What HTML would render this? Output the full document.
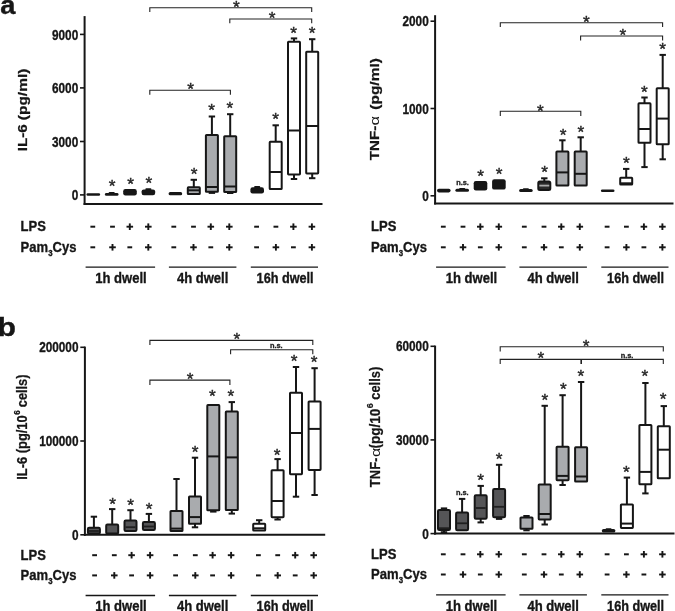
<!DOCTYPE html>
<html><head><meta charset="utf-8"><title>Figure</title>
<style>html,body{margin:0;padding:0;background:#fff}svg{display:block}</style>
</head><body>
<svg width="675" height="611" viewBox="0 0 675 611" font-family="Liberation Sans, Arial, Helvetica, sans-serif">
<rect width="675" height="611" fill="#fff"/>
<text transform="translate(0.3,14.3) scale(1.07,1)" font-size="25.5" font-weight="bold" fill="#161616" stroke="#161616" stroke-width="0.4">a</text>
<text transform="translate(-2.4,335.7) scale(1.16,1)" font-size="26" font-weight="bold" fill="#161616" stroke="#161616" stroke-width="0.4">b</text>
<line x1="84.6" y1="16.1" x2="84.6" y2="205" stroke="#161616" stroke-width="2.0"/>
<line x1="83.6" y1="204" x2="322.5" y2="204" stroke="#161616" stroke-width="2.0"/>
<line x1="80" y1="34.4" x2="84.6" y2="34.4" stroke="#161616" stroke-width="1.6"/>
<text transform="translate(78.2,39.5) scale(0.82,1)" font-size="14.4" font-weight="bold" text-anchor="end" fill="#161616" stroke="#161616" stroke-width="0.35">9000</text>
<line x1="80" y1="87.9" x2="84.6" y2="87.9" stroke="#161616" stroke-width="1.6"/>
<text transform="translate(78.2,93) scale(0.82,1)" font-size="14.4" font-weight="bold" text-anchor="end" fill="#161616" stroke="#161616" stroke-width="0.35">6000</text>
<line x1="80" y1="141.5" x2="84.6" y2="141.5" stroke="#161616" stroke-width="1.6"/>
<text transform="translate(78.2,146.6) scale(0.82,1)" font-size="14.4" font-weight="bold" text-anchor="end" fill="#161616" stroke="#161616" stroke-width="0.35">3000</text>
<line x1="80" y1="194.9" x2="84.6" y2="194.9" stroke="#161616" stroke-width="1.6"/>
<text transform="translate(78.2,200) scale(0.82,1)" font-size="14.4" font-weight="bold" text-anchor="end" fill="#161616" stroke="#161616" stroke-width="0.35">0</text>
<text transform="translate(26.9,151.2) rotate(-90)" font-size="13" font-weight="bold" fill="#161616" stroke="#161616" stroke-width="0.25" textLength="27.0" lengthAdjust="spacingAndGlyphs">IL-6</text>
<text transform="translate(26.9,120.2) rotate(-90)" font-size="13" font-weight="bold" fill="#161616" stroke="#161616" stroke-width="0.25" textLength="51.6" lengthAdjust="spacingAndGlyphs">(pg/ml)</text>
<rect x="86.5" y="193.3" width="13.6" height="2.4" rx="1.2" fill="#161616"/>
<rect x="108.7" y="191.9" width="6" height="2.2" rx="0.8" fill="#161616"/>
<rect x="104.9" y="193.1" width="13.6" height="2.7" rx="1.35" fill="#161616"/>
<rect x="123.2" y="189" width="13.6" height="6.5" rx="2.2" fill="#161616"/>
<rect x="145.4" y="188.3" width="6" height="2.1" rx="0.8" fill="#161616"/>
<rect x="141.6" y="189.4" width="13.6" height="5.9" rx="2.2" fill="#161616"/>
<rect x="168.6" y="192.1" width="13.6" height="3.1" rx="1.55" fill="#161616"/>
<line x1="193.8" y1="187.3" x2="193.8" y2="179.8" stroke="#161616" stroke-width="2.0"/>
<line x1="190.6" y1="179.8" x2="197" y2="179.8" stroke="#161616" stroke-width="2.0"/>
<rect x="187.8" y="187.3" width="12.0" height="6.7" rx="0.6" fill="#a9abae" stroke="#161616" stroke-width="2.0"/>
<line x1="187.8" y1="190.3" x2="199.8" y2="190.3" stroke="#161616" stroke-width="2.0"/>
<line x1="211.9" y1="135" x2="211.9" y2="116.5" stroke="#161616" stroke-width="2.0"/>
<line x1="208.7" y1="116.5" x2="215.1" y2="116.5" stroke="#161616" stroke-width="2.0"/>
<line x1="211.9" y1="191.8" x2="211.9" y2="192.9" stroke="#161616" stroke-width="2.0"/>
<line x1="208.7" y1="192.9" x2="215.1" y2="192.9" stroke="#161616" stroke-width="2.0"/>
<rect x="205.9" y="135" width="12.0" height="56.8" rx="0.6" fill="#a9abae" stroke="#161616" stroke-width="2.0"/>
<line x1="205.9" y1="187" x2="217.9" y2="187" stroke="#161616" stroke-width="2.0"/>
<line x1="230.2" y1="136.2" x2="230.2" y2="114.2" stroke="#161616" stroke-width="2.0"/>
<line x1="227" y1="114.2" x2="233.4" y2="114.2" stroke="#161616" stroke-width="2.0"/>
<line x1="230.2" y1="192" x2="230.2" y2="193" stroke="#161616" stroke-width="2.0"/>
<line x1="227" y1="193" x2="233.4" y2="193" stroke="#161616" stroke-width="2.0"/>
<rect x="224.2" y="136.2" width="12.0" height="55.8" rx="0.6" fill="#a9abae" stroke="#161616" stroke-width="2.0"/>
<line x1="224.2" y1="186.5" x2="236.2" y2="186.5" stroke="#161616" stroke-width="2.0"/>
<rect x="254.2" y="186" width="6" height="2.2" rx="0.8" fill="#161616"/>
<rect x="250.4" y="187.2" width="13.6" height="6.3" rx="2.2" fill="#161616"/>
<line x1="275.7" y1="141.8" x2="275.7" y2="125.3" stroke="#161616" stroke-width="2.0"/>
<line x1="272.5" y1="125.3" x2="278.9" y2="125.3" stroke="#161616" stroke-width="2.0"/>
<rect x="269.7" y="141.8" width="12.0" height="47.2" rx="0.6" fill="#ffffff" stroke="#161616" stroke-width="2.0"/>
<line x1="269.7" y1="172" x2="281.7" y2="172" stroke="#161616" stroke-width="2.0"/>
<line x1="294" y1="41.8" x2="294" y2="38.4" stroke="#161616" stroke-width="2.0"/>
<line x1="290.8" y1="38.4" x2="297.2" y2="38.4" stroke="#161616" stroke-width="2.0"/>
<line x1="294" y1="174.4" x2="294" y2="179" stroke="#161616" stroke-width="2.0"/>
<line x1="290.8" y1="179" x2="297.2" y2="179" stroke="#161616" stroke-width="2.0"/>
<rect x="288" y="41.8" width="12.0" height="132.6" rx="0.6" fill="#ffffff" stroke="#161616" stroke-width="2.0"/>
<line x1="288" y1="130.5" x2="300" y2="130.5" stroke="#161616" stroke-width="2.0"/>
<line x1="312.2" y1="51.7" x2="312.2" y2="39.2" stroke="#161616" stroke-width="2.0"/>
<line x1="309" y1="39.2" x2="315.4" y2="39.2" stroke="#161616" stroke-width="2.0"/>
<line x1="312.2" y1="173.4" x2="312.2" y2="178.2" stroke="#161616" stroke-width="2.0"/>
<line x1="309" y1="178.2" x2="315.4" y2="178.2" stroke="#161616" stroke-width="2.0"/>
<rect x="306.2" y="51.7" width="12.0" height="121.7" rx="0.6" fill="#ffffff" stroke="#161616" stroke-width="2.0"/>
<line x1="306.2" y1="126" x2="318.2" y2="126" stroke="#161616" stroke-width="2.0"/>
<text x="112.1" y="192.07" font-size="17.3" text-anchor="middle" fill="#262626" stroke="#262626" stroke-width="0.4" font-weight="normal">*</text>
<text x="130.7" y="189.67" font-size="17.3" text-anchor="middle" fill="#262626" stroke="#262626" stroke-width="0.4" font-weight="normal">*</text>
<text x="148.9" y="188.97" font-size="17.3" text-anchor="middle" fill="#262626" stroke="#262626" stroke-width="0.4" font-weight="normal">*</text>
<text x="194" y="179.67" font-size="17.3" text-anchor="middle" fill="#262626" stroke="#262626" stroke-width="0.4" font-weight="normal">*</text>
<text x="211.6" y="116.07" font-size="17.3" text-anchor="middle" fill="#262626" stroke="#262626" stroke-width="0.4" font-weight="normal">*</text>
<text x="229.9" y="113.97" font-size="17.3" text-anchor="middle" fill="#262626" stroke="#262626" stroke-width="0.4" font-weight="normal">*</text>
<text x="275.5" y="124.87" font-size="17.3" text-anchor="middle" fill="#262626" stroke="#262626" stroke-width="0.4" font-weight="normal">*</text>
<text x="293.7" y="38.57" font-size="17.3" text-anchor="middle" fill="#262626" stroke="#262626" stroke-width="0.4" font-weight="normal">*</text>
<text x="312" y="39.47" font-size="17.3" text-anchor="middle" fill="#262626" stroke="#262626" stroke-width="0.4" font-weight="normal">*</text>
<text x="236.3" y="12.77" font-size="17.3" text-anchor="middle" fill="#262626" stroke="#262626" stroke-width="0.4" font-weight="normal">*</text>
<text x="272" y="23.87" font-size="17.3" text-anchor="middle" fill="#262626" stroke="#262626" stroke-width="0.4" font-weight="normal">*</text>
<text x="190.7" y="95.37" font-size="17.3" text-anchor="middle" fill="#262626" stroke="#262626" stroke-width="0.4" font-weight="normal">*</text>
<path d="M149.8 12 V7.8 H311.7 V12" fill="none" stroke="#222" stroke-width="1.1"/>
<path d="M229.8 23.2 V19 H311.7 V23.2" fill="none" stroke="#222" stroke-width="1.1"/>
<path d="M149.8 94.8 V90.3 H230.4 V94.8" fill="none" stroke="#222" stroke-width="1.1"/>
<text transform="translate(20.6,231.3) scale(0.87,1)" font-size="15.0" font-weight="bold" text-anchor="start" fill="#161616" stroke="#161616" stroke-width="0.35">LPS</text>
<text transform="translate(20.6,252) scale(0.87,1)" font-size="15.0" font-weight="bold" fill="#161616" stroke="#161616" stroke-width="0.35">Pam<tspan font-size="9" dy="3.5">3</tspan><tspan dy="-3.5">Cys</tspan></text>
<line x1="90.4" y1="226.7" x2="95.2" y2="226.7" stroke="#161616" stroke-width="2.0"/>
<line x1="90.4" y1="247.3" x2="95.2" y2="247.3" stroke="#161616" stroke-width="2.0"/>
<line x1="110.1" y1="226.7" x2="114.9" y2="226.7" stroke="#161616" stroke-width="2.0"/>
<line x1="109.2" y1="247.3" x2="115.8" y2="247.3" stroke="#161616" stroke-width="1.9"/>
<line x1="112.5" y1="244" x2="112.5" y2="250.6" stroke="#161616" stroke-width="1.9"/>
<line x1="126.5" y1="226.7" x2="133.1" y2="226.7" stroke="#161616" stroke-width="1.9"/>
<line x1="129.8" y1="223.4" x2="129.8" y2="230" stroke="#161616" stroke-width="1.9"/>
<line x1="127.4" y1="247.3" x2="132.2" y2="247.3" stroke="#161616" stroke-width="2.0"/>
<line x1="145" y1="226.7" x2="151.6" y2="226.7" stroke="#161616" stroke-width="1.9"/>
<line x1="148.3" y1="223.4" x2="148.3" y2="230" stroke="#161616" stroke-width="1.9"/>
<line x1="145" y1="247.3" x2="151.6" y2="247.3" stroke="#161616" stroke-width="1.9"/>
<line x1="148.3" y1="244" x2="148.3" y2="250.6" stroke="#161616" stroke-width="1.9"/>
<line x1="171.4" y1="226.7" x2="176.2" y2="226.7" stroke="#161616" stroke-width="2.0"/>
<line x1="171.4" y1="247.3" x2="176.2" y2="247.3" stroke="#161616" stroke-width="2.0"/>
<line x1="191.1" y1="226.7" x2="195.9" y2="226.7" stroke="#161616" stroke-width="2.0"/>
<line x1="190.2" y1="247.3" x2="196.8" y2="247.3" stroke="#161616" stroke-width="1.9"/>
<line x1="193.5" y1="244" x2="193.5" y2="250.6" stroke="#161616" stroke-width="1.9"/>
<line x1="207.5" y1="226.7" x2="214.1" y2="226.7" stroke="#161616" stroke-width="1.9"/>
<line x1="210.8" y1="223.4" x2="210.8" y2="230" stroke="#161616" stroke-width="1.9"/>
<line x1="208.4" y1="247.3" x2="213.2" y2="247.3" stroke="#161616" stroke-width="2.0"/>
<line x1="226" y1="226.7" x2="232.6" y2="226.7" stroke="#161616" stroke-width="1.9"/>
<line x1="229.3" y1="223.4" x2="229.3" y2="230" stroke="#161616" stroke-width="1.9"/>
<line x1="226" y1="247.3" x2="232.6" y2="247.3" stroke="#161616" stroke-width="1.9"/>
<line x1="229.3" y1="244" x2="229.3" y2="250.6" stroke="#161616" stroke-width="1.9"/>
<line x1="254.2" y1="226.7" x2="259" y2="226.7" stroke="#161616" stroke-width="2.0"/>
<line x1="254.2" y1="247.3" x2="259" y2="247.3" stroke="#161616" stroke-width="2.0"/>
<line x1="273.5" y1="226.7" x2="278.3" y2="226.7" stroke="#161616" stroke-width="2.0"/>
<line x1="272.6" y1="247.3" x2="279.2" y2="247.3" stroke="#161616" stroke-width="1.9"/>
<line x1="275.9" y1="244" x2="275.9" y2="250.6" stroke="#161616" stroke-width="1.9"/>
<line x1="290.1" y1="226.7" x2="296.7" y2="226.7" stroke="#161616" stroke-width="1.9"/>
<line x1="293.4" y1="223.4" x2="293.4" y2="230" stroke="#161616" stroke-width="1.9"/>
<line x1="291" y1="247.3" x2="295.8" y2="247.3" stroke="#161616" stroke-width="2.0"/>
<line x1="308.6" y1="226.7" x2="315.2" y2="226.7" stroke="#161616" stroke-width="1.9"/>
<line x1="311.9" y1="223.4" x2="311.9" y2="230" stroke="#161616" stroke-width="1.9"/>
<line x1="308.6" y1="247.3" x2="315.2" y2="247.3" stroke="#161616" stroke-width="1.9"/>
<line x1="311.9" y1="244" x2="311.9" y2="250.6" stroke="#161616" stroke-width="1.9"/>
<line x1="85.6" y1="267.1" x2="155.1" y2="267.1" stroke="#161616" stroke-width="1.3"/>
<text transform="translate(120.95,282.8) scale(0.9,1)" font-size="14.5" font-weight="bold" text-anchor="middle" fill="#161616" stroke="#161616" stroke-width="0.35">1h dwell</text>
<line x1="168.9" y1="267.1" x2="236.4" y2="267.1" stroke="#161616" stroke-width="1.3"/>
<text transform="translate(202.65,282.8) scale(0.9,1)" font-size="14.5" font-weight="bold" text-anchor="middle" fill="#161616" stroke="#161616" stroke-width="0.35">4h dwell</text>
<line x1="250.8" y1="267.1" x2="318" y2="267.1" stroke="#161616" stroke-width="1.3"/>
<text transform="translate(285.1,282.8) scale(0.875,1)" font-size="14.5" font-weight="bold" text-anchor="middle" fill="#161616" stroke="#161616" stroke-width="0.35">16h dwell</text>
<line x1="435.1" y1="15.2" x2="435.1" y2="204.5" stroke="#161616" stroke-width="2.0"/>
<line x1="434.1" y1="203.5" x2="673.5" y2="203.5" stroke="#161616" stroke-width="2.0"/>
<line x1="430.5" y1="21.2" x2="435.1" y2="21.2" stroke="#161616" stroke-width="1.6"/>
<text transform="translate(428.7,26.3) scale(0.82,1)" font-size="14.4" font-weight="bold" text-anchor="end" fill="#161616" stroke="#161616" stroke-width="0.35">2000</text>
<line x1="430.5" y1="108.5" x2="435.1" y2="108.5" stroke="#161616" stroke-width="1.6"/>
<text transform="translate(428.7,113.6) scale(0.82,1)" font-size="14.4" font-weight="bold" text-anchor="end" fill="#161616" stroke="#161616" stroke-width="0.35">1000</text>
<line x1="430.5" y1="195.8" x2="435.1" y2="195.8" stroke="#161616" stroke-width="1.6"/>
<text transform="translate(428.7,200.9) scale(0.82,1)" font-size="14.4" font-weight="bold" text-anchor="end" fill="#161616" stroke="#161616" stroke-width="0.35">0</text>
<text transform="translate(379,160.3) rotate(-90)" font-size="13" font-weight="bold" fill="#161616" stroke="#161616" stroke-width="0.25" textLength="34.5" lengthAdjust="spacingAndGlyphs">TNF-</text>
<text transform="translate(379,125.6) rotate(-90)" font-size="13.5" font-weight="normal" fill="#161616" textLength="9.6" lengthAdjust="spacingAndGlyphs">α</text>
<text transform="translate(379,109.7) rotate(-90)" font-size="13" font-weight="bold" fill="#161616" stroke="#161616" stroke-width="0.25" textLength="51.6" lengthAdjust="spacingAndGlyphs">(pg/ml)</text>
<rect x="437" y="188.8" width="13.6" height="3.6" rx="1.8" fill="#161616"/>
<rect x="459.2" y="188" width="6" height="1.8" rx="0.8" fill="#161616"/>
<rect x="455.4" y="188.8" width="13.6" height="3" rx="1.5" fill="#161616"/>
<rect x="473.7" y="181" width="13.6" height="9.5" rx="2.2" fill="#161616"/>
<rect x="492.1" y="179.2" width="13.6" height="10.4" rx="2.2" fill="#161616"/>
<rect x="522.9" y="188.2" width="6" height="1.7" rx="0.8" fill="#161616"/>
<rect x="519.1" y="188.9" width="13.6" height="3" rx="1.5" fill="#161616"/>
<line x1="544.3" y1="181.6" x2="544.3" y2="178.3" stroke="#161616" stroke-width="2.0"/>
<line x1="541.1" y1="178.3" x2="547.5" y2="178.3" stroke="#161616" stroke-width="2.0"/>
<rect x="538.3" y="181.6" width="12.0" height="8.4" rx="1.5" fill="#2a2a2a" stroke="#161616" stroke-width="2.0"/>
<line x1="539.3" y1="185.6" x2="549.3" y2="185.6" stroke="#aaa" stroke-width="1.8"/>
<line x1="562.4" y1="151.6" x2="562.4" y2="140.3" stroke="#161616" stroke-width="2.0"/>
<line x1="559.2" y1="140.3" x2="565.6" y2="140.3" stroke="#161616" stroke-width="2.0"/>
<rect x="556.4" y="151.6" width="12.0" height="34" rx="0.6" fill="#a9abae" stroke="#161616" stroke-width="2.0"/>
<line x1="556.4" y1="172.4" x2="568.4" y2="172.4" stroke="#161616" stroke-width="2.0"/>
<line x1="580.7" y1="151.6" x2="580.7" y2="137.3" stroke="#161616" stroke-width="2.0"/>
<line x1="577.5" y1="137.3" x2="583.9" y2="137.3" stroke="#161616" stroke-width="2.0"/>
<rect x="574.7" y="151.6" width="12.0" height="34" rx="0.6" fill="#a9abae" stroke="#161616" stroke-width="2.0"/>
<line x1="574.7" y1="173.8" x2="586.7" y2="173.8" stroke="#161616" stroke-width="2.0"/>
<rect x="600.9" y="189.4" width="13.6" height="2.7" rx="1.35" fill="#161616"/>
<line x1="626.2" y1="177.8" x2="626.2" y2="168.9" stroke="#161616" stroke-width="2.0"/>
<line x1="623" y1="168.9" x2="629.4" y2="168.9" stroke="#161616" stroke-width="2.0"/>
<rect x="620.2" y="177.8" width="12.0" height="6.7" rx="0.6" fill="#ffffff" stroke="#161616" stroke-width="2.0"/>
<line x1="620.2" y1="183.3" x2="632.2" y2="183.3" stroke="#161616" stroke-width="2.0"/>
<line x1="644.5" y1="103.3" x2="644.5" y2="97.5" stroke="#161616" stroke-width="2.0"/>
<line x1="641.3" y1="97.5" x2="647.7" y2="97.5" stroke="#161616" stroke-width="2.0"/>
<line x1="644.5" y1="142.8" x2="644.5" y2="167.1" stroke="#161616" stroke-width="2.0"/>
<line x1="641.3" y1="167.1" x2="647.7" y2="167.1" stroke="#161616" stroke-width="2.0"/>
<rect x="638.5" y="103.3" width="12.0" height="39.5" rx="0.6" fill="#ffffff" stroke="#161616" stroke-width="2.0"/>
<line x1="638.5" y1="129" x2="650.5" y2="129" stroke="#161616" stroke-width="2.0"/>
<line x1="662.7" y1="88.2" x2="662.7" y2="54.9" stroke="#161616" stroke-width="2.0"/>
<line x1="659.5" y1="54.9" x2="665.9" y2="54.9" stroke="#161616" stroke-width="2.0"/>
<line x1="662.7" y1="144.3" x2="662.7" y2="159.3" stroke="#161616" stroke-width="2.0"/>
<line x1="659.5" y1="159.3" x2="665.9" y2="159.3" stroke="#161616" stroke-width="2.0"/>
<rect x="656.7" y="88.2" width="12.0" height="56.1" rx="0.6" fill="#ffffff" stroke="#161616" stroke-width="2.0"/>
<line x1="656.7" y1="118.6" x2="668.7" y2="118.6" stroke="#161616" stroke-width="2.0"/>
<text x="480.6" y="181.67" font-size="17.3" text-anchor="middle" fill="#262626" stroke="#262626" stroke-width="0.4" font-weight="normal">*</text>
<text x="499" y="180.07" font-size="17.3" text-anchor="middle" fill="#262626" stroke="#262626" stroke-width="0.4" font-weight="normal">*</text>
<text x="544.6" y="178.47" font-size="17.3" text-anchor="middle" fill="#262626" stroke="#262626" stroke-width="0.4" font-weight="normal">*</text>
<text x="563.2" y="141.07" font-size="17.3" text-anchor="middle" fill="#262626" stroke="#262626" stroke-width="0.4" font-weight="normal">*</text>
<text x="580.8" y="137.77" font-size="17.3" text-anchor="middle" fill="#262626" stroke="#262626" stroke-width="0.4" font-weight="normal">*</text>
<text x="626.3" y="169.47" font-size="17.3" text-anchor="middle" fill="#262626" stroke="#262626" stroke-width="0.4" font-weight="normal">*</text>
<text x="644.4" y="97.57" font-size="17.3" text-anchor="middle" fill="#262626" stroke="#262626" stroke-width="0.4" font-weight="normal">*</text>
<text x="662.6" y="55.47" font-size="17.3" text-anchor="middle" fill="#262626" stroke="#262626" stroke-width="0.4" font-weight="normal">*</text>
<text x="586.4" y="27.77" font-size="17.3" text-anchor="middle" fill="#262626" stroke="#262626" stroke-width="0.4" font-weight="normal">*</text>
<text x="622.9" y="40.87" font-size="17.3" text-anchor="middle" fill="#262626" stroke="#262626" stroke-width="0.4" font-weight="normal">*</text>
<text x="540.3" y="116.67" font-size="17.3" text-anchor="middle" fill="#262626" stroke="#262626" stroke-width="0.4" font-weight="normal">*</text>
<text x="462.5" y="184.5" font-size="7.4" font-weight="bold" text-anchor="middle" fill="#222" stroke="#222" stroke-width="0.3">n.s.</text>
<path d="M500.3 27.1 V22.7 H662.6 V27.1" fill="none" stroke="#222" stroke-width="1.1"/>
<path d="M580.6 40.4 V36 H662.6 V40.4" fill="none" stroke="#222" stroke-width="1.1"/>
<path d="M500.3 116.1 V111.3 H580.8 V116.1" fill="none" stroke="#222" stroke-width="1.1"/>
<text transform="translate(371.1,231.3) scale(0.87,1)" font-size="15.0" font-weight="bold" text-anchor="start" fill="#161616" stroke="#161616" stroke-width="0.35">LPS</text>
<text transform="translate(371.1,252) scale(0.87,1)" font-size="15.0" font-weight="bold" fill="#161616" stroke="#161616" stroke-width="0.35">Pam<tspan font-size="9" dy="3.5">3</tspan><tspan dy="-3.5">Cys</tspan></text>
<line x1="440.9" y1="226.7" x2="445.7" y2="226.7" stroke="#161616" stroke-width="2.0"/>
<line x1="440.9" y1="247.3" x2="445.7" y2="247.3" stroke="#161616" stroke-width="2.0"/>
<line x1="460.6" y1="226.7" x2="465.4" y2="226.7" stroke="#161616" stroke-width="2.0"/>
<line x1="459.7" y1="247.3" x2="466.3" y2="247.3" stroke="#161616" stroke-width="1.9"/>
<line x1="463" y1="244" x2="463" y2="250.6" stroke="#161616" stroke-width="1.9"/>
<line x1="477" y1="226.7" x2="483.6" y2="226.7" stroke="#161616" stroke-width="1.9"/>
<line x1="480.3" y1="223.4" x2="480.3" y2="230" stroke="#161616" stroke-width="1.9"/>
<line x1="477.9" y1="247.3" x2="482.7" y2="247.3" stroke="#161616" stroke-width="2.0"/>
<line x1="495.5" y1="226.7" x2="502.1" y2="226.7" stroke="#161616" stroke-width="1.9"/>
<line x1="498.8" y1="223.4" x2="498.8" y2="230" stroke="#161616" stroke-width="1.9"/>
<line x1="495.5" y1="247.3" x2="502.1" y2="247.3" stroke="#161616" stroke-width="1.9"/>
<line x1="498.8" y1="244" x2="498.8" y2="250.6" stroke="#161616" stroke-width="1.9"/>
<line x1="521.9" y1="226.7" x2="526.7" y2="226.7" stroke="#161616" stroke-width="2.0"/>
<line x1="521.9" y1="247.3" x2="526.7" y2="247.3" stroke="#161616" stroke-width="2.0"/>
<line x1="541.6" y1="226.7" x2="546.4" y2="226.7" stroke="#161616" stroke-width="2.0"/>
<line x1="540.7" y1="247.3" x2="547.3" y2="247.3" stroke="#161616" stroke-width="1.9"/>
<line x1="544" y1="244" x2="544" y2="250.6" stroke="#161616" stroke-width="1.9"/>
<line x1="558" y1="226.7" x2="564.6" y2="226.7" stroke="#161616" stroke-width="1.9"/>
<line x1="561.3" y1="223.4" x2="561.3" y2="230" stroke="#161616" stroke-width="1.9"/>
<line x1="558.9" y1="247.3" x2="563.7" y2="247.3" stroke="#161616" stroke-width="2.0"/>
<line x1="576.5" y1="226.7" x2="583.1" y2="226.7" stroke="#161616" stroke-width="1.9"/>
<line x1="579.8" y1="223.4" x2="579.8" y2="230" stroke="#161616" stroke-width="1.9"/>
<line x1="576.5" y1="247.3" x2="583.1" y2="247.3" stroke="#161616" stroke-width="1.9"/>
<line x1="579.8" y1="244" x2="579.8" y2="250.6" stroke="#161616" stroke-width="1.9"/>
<line x1="604.7" y1="226.7" x2="609.5" y2="226.7" stroke="#161616" stroke-width="2.0"/>
<line x1="604.7" y1="247.3" x2="609.5" y2="247.3" stroke="#161616" stroke-width="2.0"/>
<line x1="624" y1="226.7" x2="628.8" y2="226.7" stroke="#161616" stroke-width="2.0"/>
<line x1="623.1" y1="247.3" x2="629.7" y2="247.3" stroke="#161616" stroke-width="1.9"/>
<line x1="626.4" y1="244" x2="626.4" y2="250.6" stroke="#161616" stroke-width="1.9"/>
<line x1="640.6" y1="226.7" x2="647.2" y2="226.7" stroke="#161616" stroke-width="1.9"/>
<line x1="643.9" y1="223.4" x2="643.9" y2="230" stroke="#161616" stroke-width="1.9"/>
<line x1="641.5" y1="247.3" x2="646.3" y2="247.3" stroke="#161616" stroke-width="2.0"/>
<line x1="659.1" y1="226.7" x2="665.7" y2="226.7" stroke="#161616" stroke-width="1.9"/>
<line x1="662.4" y1="223.4" x2="662.4" y2="230" stroke="#161616" stroke-width="1.9"/>
<line x1="659.1" y1="247.3" x2="665.7" y2="247.3" stroke="#161616" stroke-width="1.9"/>
<line x1="662.4" y1="244" x2="662.4" y2="250.6" stroke="#161616" stroke-width="1.9"/>
<line x1="436.1" y1="267.1" x2="505.6" y2="267.1" stroke="#161616" stroke-width="1.3"/>
<text transform="translate(471.45,282.8) scale(0.9,1)" font-size="14.5" font-weight="bold" text-anchor="middle" fill="#161616" stroke="#161616" stroke-width="0.35">1h dwell</text>
<line x1="519.4" y1="267.1" x2="586.9" y2="267.1" stroke="#161616" stroke-width="1.3"/>
<text transform="translate(553.15,282.8) scale(0.9,1)" font-size="14.5" font-weight="bold" text-anchor="middle" fill="#161616" stroke="#161616" stroke-width="0.35">4h dwell</text>
<line x1="601.3" y1="267.1" x2="668.5" y2="267.1" stroke="#161616" stroke-width="1.3"/>
<text transform="translate(635.6,282.8) scale(0.875,1)" font-size="14.5" font-weight="bold" text-anchor="middle" fill="#161616" stroke="#161616" stroke-width="0.35">16h dwell</text>
<line x1="84.9" y1="346.6" x2="84.9" y2="535.8" stroke="#161616" stroke-width="2.0"/>
<line x1="83.9" y1="534.8" x2="325.2" y2="534.8" stroke="#161616" stroke-width="2.0"/>
<line x1="80.3" y1="347.3" x2="84.9" y2="347.3" stroke="#161616" stroke-width="1.6"/>
<text transform="translate(78.5,352.4) scale(0.82,1)" font-size="14.4" font-weight="bold" text-anchor="end" fill="#161616" stroke="#161616" stroke-width="0.35">200000</text>
<line x1="80.3" y1="441" x2="84.9" y2="441" stroke="#161616" stroke-width="1.6"/>
<text transform="translate(78.5,446.1) scale(0.82,1)" font-size="14.4" font-weight="bold" text-anchor="end" fill="#161616" stroke="#161616" stroke-width="0.35">100000</text>
<line x1="80.3" y1="534.8" x2="84.9" y2="534.8" stroke="#161616" stroke-width="1.6"/>
<text transform="translate(78.5,539.9) scale(0.82,1)" font-size="14.4" font-weight="bold" text-anchor="end" fill="#161616" stroke="#161616" stroke-width="0.35">0</text>
<text transform="translate(27.1,479.8) rotate(-90)" font-size="14.4" font-weight="bold" fill="#161616" stroke="#161616" stroke-width="0.25" textLength="64.5" lengthAdjust="spacingAndGlyphs">IL-6 (pg/10</text>
<text transform="translate(20.4,414.7) rotate(-90)" font-size="9.5" font-weight="bold" fill="#161616" stroke="#161616" stroke-width="0.25" textLength="4.5" lengthAdjust="spacingAndGlyphs">6</text>
<text transform="translate(27.1,407.2) rotate(-90)" font-size="14.4" font-weight="bold" fill="#161616" stroke="#161616" stroke-width="0.25" textLength="32.7" lengthAdjust="spacingAndGlyphs">cells)</text>
<line x1="93.9" y1="527.8" x2="93.9" y2="516.7" stroke="#161616" stroke-width="2.0"/>
<line x1="90.7" y1="516.7" x2="97.1" y2="516.7" stroke="#161616" stroke-width="2.0"/>
<rect x="87.9" y="527.8" width="12.0" height="5.8" rx="1.2" fill="#555557" stroke="#161616" stroke-width="2.0"/>
<line x1="88.9" y1="531" x2="98.9" y2="531" stroke="#1f1f1f" stroke-width="1.8"/>
<line x1="112.2" y1="524.6" x2="112.2" y2="509.1" stroke="#161616" stroke-width="2.0"/>
<line x1="109" y1="509.1" x2="115.4" y2="509.1" stroke="#161616" stroke-width="2.0"/>
<rect x="106.2" y="524.6" width="12.0" height="9" rx="1.2" fill="#555557" stroke="#161616" stroke-width="2.0"/>
<line x1="130.5" y1="520.5" x2="130.5" y2="510.2" stroke="#161616" stroke-width="2.0"/>
<line x1="127.3" y1="510.2" x2="133.7" y2="510.2" stroke="#161616" stroke-width="2.0"/>
<rect x="124.5" y="520.5" width="12.0" height="10.4" rx="1.2" fill="#555557" stroke="#161616" stroke-width="2.0"/>
<line x1="125.5" y1="527.2" x2="135.5" y2="527.2" stroke="#1f1f1f" stroke-width="1.8"/>
<line x1="148.9" y1="522.1" x2="148.9" y2="513.9" stroke="#161616" stroke-width="2.0"/>
<line x1="145.7" y1="513.9" x2="152.1" y2="513.9" stroke="#161616" stroke-width="2.0"/>
<rect x="142.9" y="522.1" width="12.0" height="7.9" rx="1.2" fill="#555557" stroke="#161616" stroke-width="2.0"/>
<line x1="143.9" y1="526.5" x2="153.9" y2="526.5" stroke="#1f1f1f" stroke-width="1.8"/>
<line x1="176.5" y1="510.9" x2="176.5" y2="479" stroke="#161616" stroke-width="2.0"/>
<line x1="173.3" y1="479" x2="179.7" y2="479" stroke="#161616" stroke-width="2.0"/>
<rect x="170.5" y="510.9" width="12.0" height="20.2" rx="0.6" fill="#a9abae" stroke="#161616" stroke-width="2.0"/>
<line x1="170.5" y1="528.6" x2="182.5" y2="528.6" stroke="#161616" stroke-width="2.0"/>
<line x1="195" y1="496.6" x2="195" y2="457.7" stroke="#161616" stroke-width="2.0"/>
<line x1="191.8" y1="457.7" x2="198.2" y2="457.7" stroke="#161616" stroke-width="2.0"/>
<line x1="195" y1="523.8" x2="195" y2="527.3" stroke="#161616" stroke-width="2.0"/>
<line x1="191.8" y1="527.3" x2="198.2" y2="527.3" stroke="#161616" stroke-width="2.0"/>
<rect x="189" y="496.6" width="12.0" height="27.2" rx="0.6" fill="#a9abae" stroke="#161616" stroke-width="2.0"/>
<line x1="189" y1="517.1" x2="201" y2="517.1" stroke="#161616" stroke-width="2.0"/>
<line x1="213.3" y1="510.3" x2="213.3" y2="511.6" stroke="#161616" stroke-width="2.0"/>
<line x1="210.1" y1="511.6" x2="216.5" y2="511.6" stroke="#161616" stroke-width="2.0"/>
<rect x="207.3" y="405.1" width="12.0" height="105.2" rx="0.6" fill="#a9abae" stroke="#161616" stroke-width="2.0"/>
<line x1="207.3" y1="456.4" x2="219.3" y2="456.4" stroke="#161616" stroke-width="2.0"/>
<line x1="231.8" y1="411.6" x2="231.8" y2="402.1" stroke="#161616" stroke-width="2.0"/>
<line x1="228.6" y1="402.1" x2="235" y2="402.1" stroke="#161616" stroke-width="2.0"/>
<line x1="231.8" y1="510" x2="231.8" y2="513.6" stroke="#161616" stroke-width="2.0"/>
<line x1="228.6" y1="513.6" x2="235" y2="513.6" stroke="#161616" stroke-width="2.0"/>
<rect x="225.8" y="411.6" width="12.0" height="98.4" rx="0.6" fill="#a9abae" stroke="#161616" stroke-width="2.0"/>
<line x1="225.8" y1="457.4" x2="237.8" y2="457.4" stroke="#161616" stroke-width="2.0"/>
<line x1="259.2" y1="523.8" x2="259.2" y2="520.2" stroke="#161616" stroke-width="2.0"/>
<line x1="256" y1="520.2" x2="262.4" y2="520.2" stroke="#161616" stroke-width="2.0"/>
<rect x="253.2" y="523.8" width="12.0" height="6.8" rx="0.6" fill="#ffffff" stroke="#161616" stroke-width="2.0"/>
<line x1="253.2" y1="528.3" x2="265.2" y2="528.3" stroke="#161616" stroke-width="2.0"/>
<line x1="277.6" y1="470.2" x2="277.6" y2="459.1" stroke="#161616" stroke-width="2.0"/>
<line x1="274.4" y1="459.1" x2="280.8" y2="459.1" stroke="#161616" stroke-width="2.0"/>
<line x1="277.6" y1="517.2" x2="277.6" y2="519.5" stroke="#161616" stroke-width="2.0"/>
<line x1="274.4" y1="519.5" x2="280.8" y2="519.5" stroke="#161616" stroke-width="2.0"/>
<rect x="271.6" y="470.2" width="12.0" height="47" rx="0.6" fill="#ffffff" stroke="#161616" stroke-width="2.0"/>
<line x1="271.6" y1="501" x2="283.6" y2="501" stroke="#161616" stroke-width="2.0"/>
<line x1="296" y1="392.7" x2="296" y2="367" stroke="#161616" stroke-width="2.0"/>
<line x1="292.8" y1="367" x2="299.2" y2="367" stroke="#161616" stroke-width="2.0"/>
<line x1="296" y1="474.2" x2="296" y2="496.7" stroke="#161616" stroke-width="2.0"/>
<line x1="292.8" y1="496.7" x2="299.2" y2="496.7" stroke="#161616" stroke-width="2.0"/>
<rect x="290" y="392.7" width="12.0" height="81.5" rx="0.6" fill="#ffffff" stroke="#161616" stroke-width="2.0"/>
<line x1="290" y1="433" x2="302" y2="433" stroke="#161616" stroke-width="2.0"/>
<line x1="314.6" y1="401.4" x2="314.6" y2="368.2" stroke="#161616" stroke-width="2.0"/>
<line x1="311.4" y1="368.2" x2="317.8" y2="368.2" stroke="#161616" stroke-width="2.0"/>
<line x1="314.6" y1="469.9" x2="314.6" y2="495" stroke="#161616" stroke-width="2.0"/>
<line x1="311.4" y1="495" x2="317.8" y2="495" stroke="#161616" stroke-width="2.0"/>
<rect x="308.6" y="401.4" width="12.0" height="68.5" rx="0.6" fill="#ffffff" stroke="#161616" stroke-width="2.0"/>
<line x1="308.6" y1="428.9" x2="320.6" y2="428.9" stroke="#161616" stroke-width="2.0"/>
<text x="112.5" y="509.57" font-size="17.3" text-anchor="middle" fill="#262626" stroke="#262626" stroke-width="0.4" font-weight="normal">*</text>
<text x="130.6" y="511.07" font-size="17.3" text-anchor="middle" fill="#262626" stroke="#262626" stroke-width="0.4" font-weight="normal">*</text>
<text x="149" y="514.97" font-size="17.3" text-anchor="middle" fill="#262626" stroke="#262626" stroke-width="0.4" font-weight="normal">*</text>
<text x="195.1" y="458.17" font-size="17.3" text-anchor="middle" fill="#262626" stroke="#262626" stroke-width="0.4" font-weight="normal">*</text>
<text x="212.4" y="401.57" font-size="17.3" text-anchor="middle" fill="#262626" stroke="#262626" stroke-width="0.4" font-weight="normal">*</text>
<text x="230.9" y="402.37" font-size="17.3" text-anchor="middle" fill="#262626" stroke="#262626" stroke-width="0.4" font-weight="normal">*</text>
<text x="277" y="461.27" font-size="17.3" text-anchor="middle" fill="#262626" stroke="#262626" stroke-width="0.4" font-weight="normal">*</text>
<text x="294.2" y="367.17" font-size="17.3" text-anchor="middle" fill="#262626" stroke="#262626" stroke-width="0.4" font-weight="normal">*</text>
<text x="314" y="368.47" font-size="17.3" text-anchor="middle" fill="#262626" stroke="#262626" stroke-width="0.4" font-weight="normal">*</text>
<text x="236.8" y="345.37" font-size="17.3" text-anchor="middle" fill="#262626" stroke="#262626" stroke-width="0.4" font-weight="normal">*</text>
<text x="190.2" y="384.97" font-size="17.3" text-anchor="middle" fill="#262626" stroke="#262626" stroke-width="0.4" font-weight="normal">*</text>
<text x="276.3" y="348.3" font-size="7.4" font-weight="bold" text-anchor="middle" fill="#222" stroke="#222" stroke-width="0.3">n.s.</text>
<path d="M149.9 344.9 V340.4 H312.8 V344.9" fill="none" stroke="#222" stroke-width="1.1"/>
<path d="M230.6 354.2 V349.8 H312.8 V354.2" fill="none" stroke="#222" stroke-width="1.1"/>
<path d="M149.9 385.1 V380.1 H229.9 V385.1" fill="none" stroke="#222" stroke-width="1.1"/>
<text transform="translate(20.6,559.8) scale(0.87,1)" font-size="15.0" font-weight="bold" text-anchor="start" fill="#161616" stroke="#161616" stroke-width="0.35">LPS</text>
<text transform="translate(20.6,580.1) scale(0.87,1)" font-size="15.0" font-weight="bold" fill="#161616" stroke="#161616" stroke-width="0.35">Pam<tspan font-size="9" dy="3.5">3</tspan><tspan dy="-3.5">Cys</tspan></text>
<line x1="92.2" y1="555.2" x2="97" y2="555.2" stroke="#161616" stroke-width="2.0"/>
<line x1="92.2" y1="575.4" x2="97" y2="575.4" stroke="#161616" stroke-width="2.0"/>
<line x1="111.9" y1="555.2" x2="116.7" y2="555.2" stroke="#161616" stroke-width="2.0"/>
<line x1="111" y1="575.4" x2="117.6" y2="575.4" stroke="#161616" stroke-width="1.9"/>
<line x1="114.3" y1="572.1" x2="114.3" y2="578.7" stroke="#161616" stroke-width="1.9"/>
<line x1="128.3" y1="555.2" x2="134.9" y2="555.2" stroke="#161616" stroke-width="1.9"/>
<line x1="131.6" y1="551.9" x2="131.6" y2="558.5" stroke="#161616" stroke-width="1.9"/>
<line x1="129.2" y1="575.4" x2="134" y2="575.4" stroke="#161616" stroke-width="2.0"/>
<line x1="146.8" y1="555.2" x2="153.4" y2="555.2" stroke="#161616" stroke-width="1.9"/>
<line x1="150.1" y1="551.9" x2="150.1" y2="558.5" stroke="#161616" stroke-width="1.9"/>
<line x1="146.8" y1="575.4" x2="153.4" y2="575.4" stroke="#161616" stroke-width="1.9"/>
<line x1="150.1" y1="572.1" x2="150.1" y2="578.7" stroke="#161616" stroke-width="1.9"/>
<line x1="173.2" y1="555.2" x2="178" y2="555.2" stroke="#161616" stroke-width="2.0"/>
<line x1="173.2" y1="575.4" x2="178" y2="575.4" stroke="#161616" stroke-width="2.0"/>
<line x1="192.9" y1="555.2" x2="197.7" y2="555.2" stroke="#161616" stroke-width="2.0"/>
<line x1="192" y1="575.4" x2="198.6" y2="575.4" stroke="#161616" stroke-width="1.9"/>
<line x1="195.3" y1="572.1" x2="195.3" y2="578.7" stroke="#161616" stroke-width="1.9"/>
<line x1="209.3" y1="555.2" x2="215.9" y2="555.2" stroke="#161616" stroke-width="1.9"/>
<line x1="212.6" y1="551.9" x2="212.6" y2="558.5" stroke="#161616" stroke-width="1.9"/>
<line x1="210.2" y1="575.4" x2="215" y2="575.4" stroke="#161616" stroke-width="2.0"/>
<line x1="227.8" y1="555.2" x2="234.4" y2="555.2" stroke="#161616" stroke-width="1.9"/>
<line x1="231.1" y1="551.9" x2="231.1" y2="558.5" stroke="#161616" stroke-width="1.9"/>
<line x1="227.8" y1="575.4" x2="234.4" y2="575.4" stroke="#161616" stroke-width="1.9"/>
<line x1="231.1" y1="572.1" x2="231.1" y2="578.7" stroke="#161616" stroke-width="1.9"/>
<line x1="256" y1="555.2" x2="260.8" y2="555.2" stroke="#161616" stroke-width="2.0"/>
<line x1="256" y1="575.4" x2="260.8" y2="575.4" stroke="#161616" stroke-width="2.0"/>
<line x1="275.3" y1="555.2" x2="280.1" y2="555.2" stroke="#161616" stroke-width="2.0"/>
<line x1="274.4" y1="575.4" x2="281" y2="575.4" stroke="#161616" stroke-width="1.9"/>
<line x1="277.7" y1="572.1" x2="277.7" y2="578.7" stroke="#161616" stroke-width="1.9"/>
<line x1="291.9" y1="555.2" x2="298.5" y2="555.2" stroke="#161616" stroke-width="1.9"/>
<line x1="295.2" y1="551.9" x2="295.2" y2="558.5" stroke="#161616" stroke-width="1.9"/>
<line x1="292.8" y1="575.4" x2="297.6" y2="575.4" stroke="#161616" stroke-width="2.0"/>
<line x1="310.4" y1="555.2" x2="317" y2="555.2" stroke="#161616" stroke-width="1.9"/>
<line x1="313.7" y1="551.9" x2="313.7" y2="558.5" stroke="#161616" stroke-width="1.9"/>
<line x1="310.4" y1="575.4" x2="317" y2="575.4" stroke="#161616" stroke-width="1.9"/>
<line x1="313.7" y1="572.1" x2="313.7" y2="578.7" stroke="#161616" stroke-width="1.9"/>
<line x1="85.6" y1="595.5" x2="155.1" y2="595.5" stroke="#161616" stroke-width="1.3"/>
<text transform="translate(120.95,611.4) scale(0.9,1)" font-size="14.5" font-weight="bold" text-anchor="middle" fill="#161616" stroke="#161616" stroke-width="0.35">1h dwell</text>
<line x1="168.9" y1="595.5" x2="236.4" y2="595.5" stroke="#161616" stroke-width="1.3"/>
<text transform="translate(202.65,611.4) scale(0.9,1)" font-size="14.5" font-weight="bold" text-anchor="middle" fill="#161616" stroke="#161616" stroke-width="0.35">4h dwell</text>
<line x1="250.8" y1="595.5" x2="318" y2="595.5" stroke="#161616" stroke-width="1.3"/>
<text transform="translate(285.1,611.4) scale(0.875,1)" font-size="14.5" font-weight="bold" text-anchor="middle" fill="#161616" stroke="#161616" stroke-width="0.35">16h dwell</text>
<line x1="435.1" y1="345.6" x2="435.1" y2="534.6" stroke="#161616" stroke-width="2.0"/>
<line x1="434.1" y1="533.6" x2="674.5" y2="533.6" stroke="#161616" stroke-width="2.0"/>
<line x1="430.5" y1="346.3" x2="435.1" y2="346.3" stroke="#161616" stroke-width="1.6"/>
<text transform="translate(428.7,351.4) scale(0.82,1)" font-size="14.4" font-weight="bold" text-anchor="end" fill="#161616" stroke="#161616" stroke-width="0.35">60000</text>
<line x1="430.5" y1="439.9" x2="435.1" y2="439.9" stroke="#161616" stroke-width="1.6"/>
<text transform="translate(428.7,445) scale(0.82,1)" font-size="14.4" font-weight="bold" text-anchor="end" fill="#161616" stroke="#161616" stroke-width="0.35">30000</text>
<line x1="430.5" y1="533.6" x2="435.1" y2="533.6" stroke="#161616" stroke-width="1.6"/>
<text transform="translate(428.7,538.7) scale(0.82,1)" font-size="14.4" font-weight="bold" text-anchor="end" fill="#161616" stroke="#161616" stroke-width="0.35">0</text>
<text transform="translate(379.8,487.2) rotate(-90)" font-size="14.4" font-weight="bold" fill="#161616" stroke="#161616" stroke-width="0.25" textLength="29.6" lengthAdjust="spacingAndGlyphs">TNF-</text>
<text transform="translate(379.8,457.0) rotate(-90)" font-size="12.5" font-weight="normal" fill="#161616" textLength="9.2" lengthAdjust="spacingAndGlyphs">α</text>
<text transform="translate(379.8,448.5) rotate(-90)" font-size="14.4" font-weight="bold" fill="#161616" stroke="#161616" stroke-width="0.25" textLength="39.9" lengthAdjust="spacingAndGlyphs">(pg/10</text>
<text transform="translate(373.3,408.3) rotate(-90)" font-size="9.5" font-weight="bold" fill="#161616" stroke="#161616" stroke-width="0.25" textLength="5.0" lengthAdjust="spacingAndGlyphs">6</text>
<text transform="translate(379.8,399.7) rotate(-90)" font-size="14.4" font-weight="bold" fill="#161616" stroke="#161616" stroke-width="0.25" textLength="32.9" lengthAdjust="spacingAndGlyphs">cells)</text>
<line x1="444" y1="509.9" x2="444" y2="508.4" stroke="#161616" stroke-width="2.0"/>
<line x1="440.8" y1="508.4" x2="447.2" y2="508.4" stroke="#161616" stroke-width="2.0"/>
<line x1="444" y1="530" x2="444" y2="532.2" stroke="#161616" stroke-width="2.0"/>
<line x1="440.8" y1="532.2" x2="447.2" y2="532.2" stroke="#161616" stroke-width="2.0"/>
<rect x="438" y="509.9" width="12.0" height="20.1" rx="1.2" fill="#555557" stroke="#161616" stroke-width="2.0"/>
<line x1="439" y1="528.2" x2="449" y2="528.2" stroke="#1f1f1f" stroke-width="1.8"/>
<line x1="462.1" y1="512.5" x2="462.1" y2="498.9" stroke="#161616" stroke-width="2.0"/>
<line x1="458.9" y1="498.9" x2="465.3" y2="498.9" stroke="#161616" stroke-width="2.0"/>
<rect x="456.1" y="512.5" width="12.0" height="17.7" rx="1.2" fill="#555557" stroke="#161616" stroke-width="2.0"/>
<line x1="457.1" y1="523.3" x2="467.1" y2="523.3" stroke="#1f1f1f" stroke-width="1.8"/>
<line x1="480.7" y1="495.2" x2="480.7" y2="485.9" stroke="#161616" stroke-width="2.0"/>
<line x1="477.5" y1="485.9" x2="483.9" y2="485.9" stroke="#161616" stroke-width="2.0"/>
<line x1="480.7" y1="518.7" x2="480.7" y2="522.4" stroke="#161616" stroke-width="2.0"/>
<line x1="477.5" y1="522.4" x2="483.9" y2="522.4" stroke="#161616" stroke-width="2.0"/>
<rect x="474.7" y="495.2" width="12.0" height="23.5" rx="1.2" fill="#555557" stroke="#161616" stroke-width="2.0"/>
<line x1="475.7" y1="508" x2="485.7" y2="508" stroke="#1f1f1f" stroke-width="1.8"/>
<line x1="499.1" y1="489" x2="499.1" y2="464.8" stroke="#161616" stroke-width="2.0"/>
<line x1="495.9" y1="464.8" x2="502.3" y2="464.8" stroke="#161616" stroke-width="2.0"/>
<line x1="499.1" y1="517.3" x2="499.1" y2="518.9" stroke="#161616" stroke-width="2.0"/>
<line x1="495.9" y1="518.9" x2="502.3" y2="518.9" stroke="#161616" stroke-width="2.0"/>
<rect x="493.1" y="489" width="12.0" height="28.3" rx="1.2" fill="#555557" stroke="#161616" stroke-width="2.0"/>
<line x1="494.1" y1="506.8" x2="504.1" y2="506.8" stroke="#1f1f1f" stroke-width="1.8"/>
<line x1="526.5" y1="517.4" x2="526.5" y2="516" stroke="#161616" stroke-width="2.0"/>
<line x1="523.3" y1="516" x2="529.7" y2="516" stroke="#161616" stroke-width="2.0"/>
<line x1="526.5" y1="528.8" x2="526.5" y2="530.3" stroke="#161616" stroke-width="2.0"/>
<line x1="523.3" y1="530.3" x2="529.7" y2="530.3" stroke="#161616" stroke-width="2.0"/>
<rect x="520.5" y="517.4" width="12.0" height="11.4" rx="0.6" fill="#a9abae" stroke="#161616" stroke-width="2.0"/>
<line x1="544.7" y1="484.5" x2="544.7" y2="405.8" stroke="#161616" stroke-width="2.0"/>
<line x1="541.5" y1="405.8" x2="547.9" y2="405.8" stroke="#161616" stroke-width="2.0"/>
<line x1="544.7" y1="519.4" x2="544.7" y2="524.5" stroke="#161616" stroke-width="2.0"/>
<line x1="541.5" y1="524.5" x2="547.9" y2="524.5" stroke="#161616" stroke-width="2.0"/>
<rect x="538.7" y="484.5" width="12.0" height="34.9" rx="0.6" fill="#a9abae" stroke="#161616" stroke-width="2.0"/>
<line x1="538.7" y1="514" x2="550.7" y2="514" stroke="#161616" stroke-width="2.0"/>
<line x1="562.6" y1="446.7" x2="562.6" y2="395.2" stroke="#161616" stroke-width="2.0"/>
<line x1="559.4" y1="395.2" x2="565.8" y2="395.2" stroke="#161616" stroke-width="2.0"/>
<line x1="562.6" y1="480.2" x2="562.6" y2="485" stroke="#161616" stroke-width="2.0"/>
<line x1="559.4" y1="485" x2="565.8" y2="485" stroke="#161616" stroke-width="2.0"/>
<rect x="556.6" y="446.7" width="12.0" height="33.5" rx="0.6" fill="#a9abae" stroke="#161616" stroke-width="2.0"/>
<line x1="556.6" y1="475.9" x2="568.6" y2="475.9" stroke="#161616" stroke-width="2.0"/>
<line x1="581.1" y1="447.3" x2="581.1" y2="382" stroke="#161616" stroke-width="2.0"/>
<line x1="577.9" y1="382" x2="584.3" y2="382" stroke="#161616" stroke-width="2.0"/>
<rect x="575.1" y="447.3" width="12.0" height="34.3" rx="0.6" fill="#a9abae" stroke="#161616" stroke-width="2.0"/>
<line x1="575.1" y1="476.5" x2="587.1" y2="476.5" stroke="#161616" stroke-width="2.0"/>
<rect x="605.6" y="528.2" width="6" height="1.7" rx="0.8" fill="#161616"/>
<rect x="601.8" y="528.9" width="13.6" height="3.7" rx="1.85" fill="#161616"/>
<line x1="626.9" y1="504.4" x2="626.9" y2="477.6" stroke="#161616" stroke-width="2.0"/>
<line x1="623.7" y1="477.6" x2="630.1" y2="477.6" stroke="#161616" stroke-width="2.0"/>
<rect x="620.9" y="504.4" width="12.0" height="23.5" rx="0.6" fill="#ffffff" stroke="#161616" stroke-width="2.0"/>
<line x1="620.9" y1="523.6" x2="632.9" y2="523.6" stroke="#161616" stroke-width="2.0"/>
<line x1="645.4" y1="424.9" x2="645.4" y2="383" stroke="#161616" stroke-width="2.0"/>
<line x1="642.2" y1="383" x2="648.6" y2="383" stroke="#161616" stroke-width="2.0"/>
<line x1="645.4" y1="484.3" x2="645.4" y2="493.4" stroke="#161616" stroke-width="2.0"/>
<line x1="642.2" y1="493.4" x2="648.6" y2="493.4" stroke="#161616" stroke-width="2.0"/>
<rect x="639.4" y="424.9" width="12.0" height="59.4" rx="0.6" fill="#ffffff" stroke="#161616" stroke-width="2.0"/>
<line x1="639.4" y1="471.9" x2="651.4" y2="471.9" stroke="#161616" stroke-width="2.0"/>
<line x1="663.8" y1="426.2" x2="663.8" y2="406.1" stroke="#161616" stroke-width="2.0"/>
<line x1="660.6" y1="406.1" x2="667" y2="406.1" stroke="#161616" stroke-width="2.0"/>
<rect x="657.8" y="426.2" width="12.0" height="52.1" rx="0.6" fill="#ffffff" stroke="#161616" stroke-width="2.0"/>
<line x1="657.8" y1="449.7" x2="669.8" y2="449.7" stroke="#161616" stroke-width="2.0"/>
<text x="480.7" y="486.37" font-size="17.3" text-anchor="middle" fill="#262626" stroke="#262626" stroke-width="0.4" font-weight="normal">*</text>
<text x="499.1" y="464.67" font-size="17.3" text-anchor="middle" fill="#262626" stroke="#262626" stroke-width="0.4" font-weight="normal">*</text>
<text x="544.9" y="406.07" font-size="17.3" text-anchor="middle" fill="#262626" stroke="#262626" stroke-width="0.4" font-weight="normal">*</text>
<text x="563.3" y="395.17" font-size="17.3" text-anchor="middle" fill="#262626" stroke="#262626" stroke-width="0.4" font-weight="normal">*</text>
<text x="580.8" y="382.27" font-size="17.3" text-anchor="middle" fill="#262626" stroke="#262626" stroke-width="0.4" font-weight="normal">*</text>
<text x="626.3" y="478.07" font-size="17.3" text-anchor="middle" fill="#262626" stroke="#262626" stroke-width="0.4" font-weight="normal">*</text>
<text x="644.8" y="382.47" font-size="17.3" text-anchor="middle" fill="#262626" stroke="#262626" stroke-width="0.4" font-weight="normal">*</text>
<text x="663" y="404.87" font-size="17.3" text-anchor="middle" fill="#262626" stroke="#262626" stroke-width="0.4" font-weight="normal">*</text>
<text x="586.1" y="351.67" font-size="17.3" text-anchor="middle" fill="#262626" stroke="#262626" stroke-width="0.4" font-weight="normal">*</text>
<text x="540.8" y="363.77" font-size="17.3" text-anchor="middle" fill="#262626" stroke="#262626" stroke-width="0.4" font-weight="normal">*</text>
<text x="462.3" y="495.3" font-size="7.4" font-weight="bold" text-anchor="middle" fill="#222" stroke="#222" stroke-width="0.3">n.s.</text>
<text x="627" y="358" font-size="7.4" font-weight="bold" text-anchor="middle" fill="#222" stroke="#222" stroke-width="0.3">n.s.</text>
<path d="M500.2 351.5 V346.7 H663.3 V351.5" fill="none" stroke="#222" stroke-width="1.1"/>
<path d="M500.2 363.9 V359.4 H663.3 V363.9" fill="none" stroke="#222" stroke-width="1.1"/>
<line x1="581.2" y1="359.4" x2="581.2" y2="363.9" stroke="#222" stroke-width="1.6"/>
<text transform="translate(371.1,558.9) scale(0.87,1)" font-size="15.0" font-weight="bold" text-anchor="start" fill="#161616" stroke="#161616" stroke-width="0.35">LPS</text>
<text transform="translate(371.1,579.2) scale(0.87,1)" font-size="15.0" font-weight="bold" fill="#161616" stroke="#161616" stroke-width="0.35">Pam<tspan font-size="9" dy="3.5">3</tspan><tspan dy="-3.5">Cys</tspan></text>
<line x1="440.9" y1="554.3" x2="445.7" y2="554.3" stroke="#161616" stroke-width="2.0"/>
<line x1="440.9" y1="574.5" x2="445.7" y2="574.5" stroke="#161616" stroke-width="2.0"/>
<line x1="460.6" y1="554.3" x2="465.4" y2="554.3" stroke="#161616" stroke-width="2.0"/>
<line x1="459.7" y1="574.5" x2="466.3" y2="574.5" stroke="#161616" stroke-width="1.9"/>
<line x1="463" y1="571.2" x2="463" y2="577.8" stroke="#161616" stroke-width="1.9"/>
<line x1="477" y1="554.3" x2="483.6" y2="554.3" stroke="#161616" stroke-width="1.9"/>
<line x1="480.3" y1="551" x2="480.3" y2="557.6" stroke="#161616" stroke-width="1.9"/>
<line x1="477.9" y1="574.5" x2="482.7" y2="574.5" stroke="#161616" stroke-width="2.0"/>
<line x1="495.5" y1="554.3" x2="502.1" y2="554.3" stroke="#161616" stroke-width="1.9"/>
<line x1="498.8" y1="551" x2="498.8" y2="557.6" stroke="#161616" stroke-width="1.9"/>
<line x1="495.5" y1="574.5" x2="502.1" y2="574.5" stroke="#161616" stroke-width="1.9"/>
<line x1="498.8" y1="571.2" x2="498.8" y2="577.8" stroke="#161616" stroke-width="1.9"/>
<line x1="521.9" y1="554.3" x2="526.7" y2="554.3" stroke="#161616" stroke-width="2.0"/>
<line x1="521.9" y1="574.5" x2="526.7" y2="574.5" stroke="#161616" stroke-width="2.0"/>
<line x1="541.6" y1="554.3" x2="546.4" y2="554.3" stroke="#161616" stroke-width="2.0"/>
<line x1="540.7" y1="574.5" x2="547.3" y2="574.5" stroke="#161616" stroke-width="1.9"/>
<line x1="544" y1="571.2" x2="544" y2="577.8" stroke="#161616" stroke-width="1.9"/>
<line x1="558" y1="554.3" x2="564.6" y2="554.3" stroke="#161616" stroke-width="1.9"/>
<line x1="561.3" y1="551" x2="561.3" y2="557.6" stroke="#161616" stroke-width="1.9"/>
<line x1="558.9" y1="574.5" x2="563.7" y2="574.5" stroke="#161616" stroke-width="2.0"/>
<line x1="576.5" y1="554.3" x2="583.1" y2="554.3" stroke="#161616" stroke-width="1.9"/>
<line x1="579.8" y1="551" x2="579.8" y2="557.6" stroke="#161616" stroke-width="1.9"/>
<line x1="576.5" y1="574.5" x2="583.1" y2="574.5" stroke="#161616" stroke-width="1.9"/>
<line x1="579.8" y1="571.2" x2="579.8" y2="577.8" stroke="#161616" stroke-width="1.9"/>
<line x1="604.7" y1="554.3" x2="609.5" y2="554.3" stroke="#161616" stroke-width="2.0"/>
<line x1="604.7" y1="574.5" x2="609.5" y2="574.5" stroke="#161616" stroke-width="2.0"/>
<line x1="624" y1="554.3" x2="628.8" y2="554.3" stroke="#161616" stroke-width="2.0"/>
<line x1="623.1" y1="574.5" x2="629.7" y2="574.5" stroke="#161616" stroke-width="1.9"/>
<line x1="626.4" y1="571.2" x2="626.4" y2="577.8" stroke="#161616" stroke-width="1.9"/>
<line x1="640.6" y1="554.3" x2="647.2" y2="554.3" stroke="#161616" stroke-width="1.9"/>
<line x1="643.9" y1="551" x2="643.9" y2="557.6" stroke="#161616" stroke-width="1.9"/>
<line x1="641.5" y1="574.5" x2="646.3" y2="574.5" stroke="#161616" stroke-width="2.0"/>
<line x1="659.1" y1="554.3" x2="665.7" y2="554.3" stroke="#161616" stroke-width="1.9"/>
<line x1="662.4" y1="551" x2="662.4" y2="557.6" stroke="#161616" stroke-width="1.9"/>
<line x1="659.1" y1="574.5" x2="665.7" y2="574.5" stroke="#161616" stroke-width="1.9"/>
<line x1="662.4" y1="571.2" x2="662.4" y2="577.8" stroke="#161616" stroke-width="1.9"/>
<line x1="436.1" y1="594.8" x2="505.6" y2="594.8" stroke="#161616" stroke-width="1.3"/>
<text transform="translate(471.45,610.8) scale(0.9,1)" font-size="14.5" font-weight="bold" text-anchor="middle" fill="#161616" stroke="#161616" stroke-width="0.35">1h dwell</text>
<line x1="519.4" y1="594.8" x2="586.9" y2="594.8" stroke="#161616" stroke-width="1.3"/>
<text transform="translate(553.15,610.8) scale(0.9,1)" font-size="14.5" font-weight="bold" text-anchor="middle" fill="#161616" stroke="#161616" stroke-width="0.35">4h dwell</text>
<line x1="601.3" y1="594.8" x2="668.5" y2="594.8" stroke="#161616" stroke-width="1.3"/>
<text transform="translate(635.6,610.8) scale(0.875,1)" font-size="14.5" font-weight="bold" text-anchor="middle" fill="#161616" stroke="#161616" stroke-width="0.35">16h dwell</text>
</svg>
</body></html>
